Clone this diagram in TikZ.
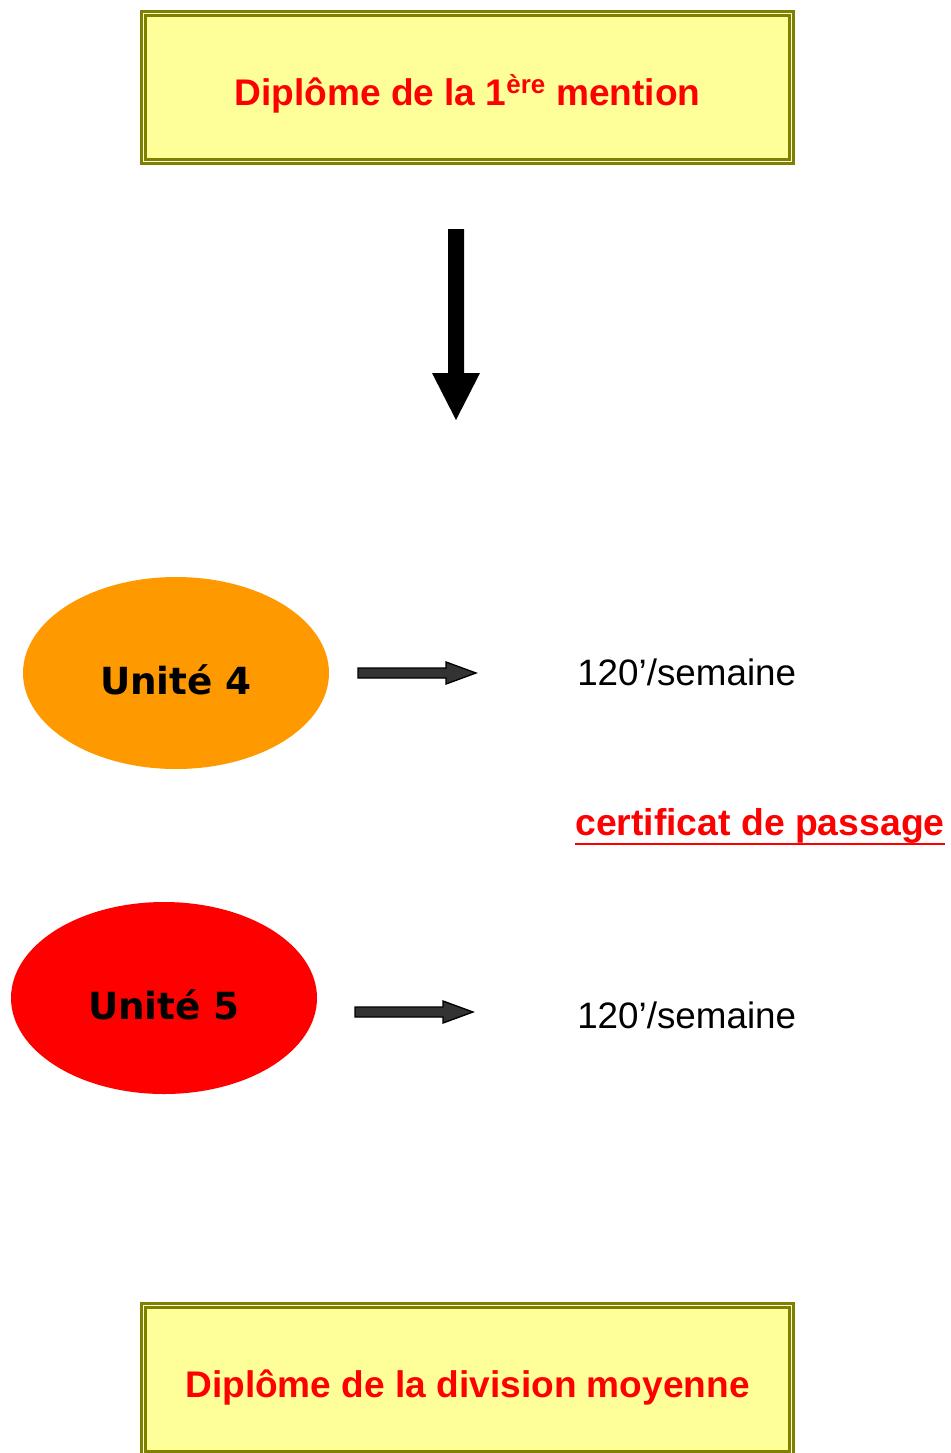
\documentclass[tikz,border=0pt]{standalone}
\usepackage{fontspec}
\setmainfont{Liberation Sans}
\newfontfamily\unitfont{DejaVu Sans}
\usetikzlibrary{shapes.geometric}
\definecolor{boxfill}{HTML}{FFFF99}
\definecolor{boxline}{HTML}{808000}
\definecolor{unitorange}{HTML}{FF9900}
\definecolor{arrowgray}{HTML}{333333}

\begin{document}
\begin{tikzpicture}
  [x=0.75pt,y=-0.75pt,
   diploma/.style={draw=boxline,double=boxfill!35!white,double distance=1.4pt,line width=1.7pt,
     fill=boxfill,minimum width=486pt,minimum height=111pt,text=red,
     text height=27.5pt,text depth=0pt,font=\bfseries\fontsize{27.8}{32}\selectfont},
   unit/.style={ellipse,minimum width=229.5pt,minimum height=144pt,inner sep=0pt,
     text height=32pt,text depth=0pt,font=\unitfont\bfseries\fontsize{28}{32}\selectfont},
   hours/.style={anchor=base west,inner sep=0pt,font=\fontsize{27.6}{32}\selectfont},
   blockarrow/.style={fill=arrowgray,draw=black,line width=1pt}]
  \clip (0,0) rectangle (950,1453);
  \node[diploma] (top) at (467.5,87.5) {Diplôme de la 1\textsuperscript{ère} mention};
  \node[diploma] (bottom) at (467.5,1379.5) {Diplôme de la division moyenne};
  % big arrow down
  \fill (448,229) -- (464,229) -- (464,373) -- (480,373) -- (456,420) -- (432,373) -- (448,373) -- cycle;
  \node[unit,fill=unitorange] (u4) at (176,673) {Unité 4};
  \node[unit,fill=red] (u5) at (164,998) {Unité 5};
  \foreach \x/\y in {358/673,355/1012}
    \filldraw[blockarrow] (\x,\y-5) -- ++(88,0) -- ++(0,-6) -- ++(30,11) -- ++(-30,11) -- ++(0,-6) -- ++(-88,0) -- cycle;
  \node[hours] (h4) at (577,685) {120’/semaine};
  \node[hours] (h5) at (577,1028) {120’/semaine};
  \node[hours,text=red,font=\bfseries\fontsize{28}{32}\selectfont] (cert) at (575,835) {certificat de passage};
  \draw[red,line width=1.6pt] ([yshift=-6.75pt]cert.base west) -- ([yshift=-6.75pt]cert.base east);
\end{tikzpicture}
\end{document}
